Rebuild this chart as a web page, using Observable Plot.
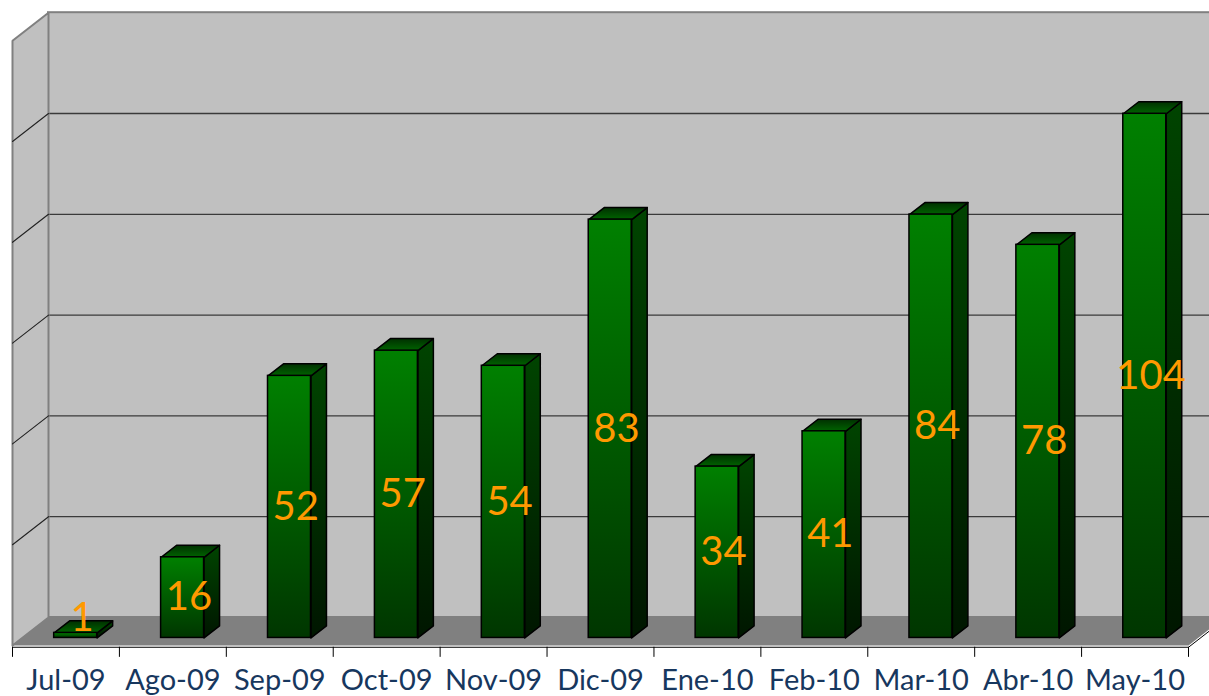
<!DOCTYPE html>
<html>
<head>
<meta charset="utf-8">
<script src="https://cdn.jsdelivr.net/npm/d3@7"></script>
<script src="https://cdn.jsdelivr.net/npm/@observablehq/plot@0.6"></script>
<style>
  html, body { margin: 0; padding: 0; background: #ffffff; overflow: hidden; }
  #chart svg { display: block; }
</style>
</head>
<body>
<div id="chart"></div>
<script>
// ---- data ----
const categories = ["Jul-09", "Ago-09", "Sep-09", "Oct-09", "Nov-09", "Dic-09", "Ene-10", "Feb-10", "Mar-10", "Abr-10", "May-10"];
const values = [1, 16, 52, 57, 54, 83, 34, 41, 84, 78, 104];
const gridValues = [20, 40, 60, 80, 100];
const yMax = 120;

// ---- 3D projection helpers (depth expressed in scale units) ----
const PX_PER_CAT = 1176 / 11;   // x scale: px per category
const PX_PER_VAL = 5.04;        // y scale: px per value unit
const KX = 36 / PX_PER_CAT;     // x shift for full depth
const KY = 28 / PX_PER_VAL;     // y shift for full depth
const D0 = 0.27, D1 = 0.70, BW = 0.402;
const proj = (x, v, d) => ({x: x + d * KX, y: v + d * KY});

const bars = values.map((v, i) => ({i, v, cat: categories[i]}));
const sides = bars.flatMap(b => {
  const xr = b.i + 0.5 + BW / 2;
  return [proj(xr, 0, D0), proj(xr, 0, D1), proj(xr, b.v, D1), proj(xr, b.v, D0), proj(xr, 0, D0)]
    .map(p => ({...p, id: b.i}));
});
const tops = bars.flatMap(b => {
  const xl = b.i + 0.5 - BW / 2, xr = b.i + 0.5 + BW / 2;
  return [proj(xl, b.v, D0), proj(xr, b.v, D0), proj(xr, b.v, D1), proj(xl, b.v, D1), proj(xl, b.v, D0)]
    .map(p => ({...p, id: b.i}));
});
const sideWall = [proj(0, 0, 0), proj(0, 0, 1), proj(0, yMax, 1), proj(0, yMax, 0), proj(0, 0, 0)];
const floor = [proj(0, 0, 0), proj(11, 0, 0), proj(11, 0, 1), proj(0, 0, 1), proj(0, 0, 0)];
const sideGrid = gridValues.flatMap(g => [proj(0, g, 0), proj(0, g, 1)].map(p => ({...p, g})));

function defs() {
  const d = d3.create("svg:defs");
  const grad = (id, stops) => {
    const g = d.append("linearGradient").attr("id", id)
      .attr("x1", 0).attr("y1", 0).attr("x2", 0).attr("y2", 1);
    stops.forEach(([o, c]) => g.append("stop").attr("offset", o).attr("stop-color", c));
  };
  grad("gFront", [[0, "#008000"], [1, "#003600"]]);
  grad("gSide", [[0, "#004400"], [1, "#001600"]]);
  grad("gTop", [[0, "#003000"], [1, "#006400"]]);
  return d.node();
}

const chart = Plot.plot({
  width: 1209,
  height: 696,
  style: {overflow: "hidden", background: "#ffffff"},
  x: {type: "linear", domain: [0, 11], range: [12, 1188], axis: null},
  y: {type: "linear", domain: [0, 128], range: [645, 645 - 128 * PX_PER_VAL], axis: null},
  marks: [
    defs,
    // back wall
    Plot.rect([0], {x1: () => KX, x2: () => 11.8, y1: () => KY, y2: () => yMax + KY,
      fill: "#C0C0C0", stroke: "#808080", strokeWidth: 2}),
    // back wall gridlines
    Plot.ruleY(gridValues, {y: g => g + KY, x1: () => KX, x2: () => 11.8, stroke: "#3a3a3a", strokeWidth: 1.3}),
    // side wall
    Plot.line(sideWall, {x: "x", y: "y", fill: "#C0C0C0", stroke: "#808080", strokeWidth: 2, strokeLinejoin: "miter"}),
    Plot.line(sideGrid, {x: "x", y: "y", z: "g", stroke: "#222222", strokeWidth: 1.1}),
    // floor
    Plot.line(floor, {x: "x", y: "y", fill: "#808080", stroke: "none"}),
    Plot.line([proj(11, -0.35, 0), proj(11, -0.35, 1)], {x: "x", y: "y", stroke: "#000000", strokeWidth: 1}),
    // bars
    Plot.line(sides, {x: "x", y: "y", z: "id", fill: "url(#gSide)", stroke: "#000000", strokeWidth: 1.5}),
    Plot.line(tops, {x: "x", y: "y", z: "id", fill: "url(#gTop)", stroke: "#000000", strokeWidth: 1.5}),
    Plot.rect(bars, {
      x1: b => b.i + 0.5 - BW / 2 + D0 * KX,
      x2: b => b.i + 0.5 + BW / 2 + D0 * KX,
      y1: () => D0 * KY,
      y2: b => b.v + D0 * KY,
      fill: "url(#gFront)", stroke: "#000000", strokeWidth: 1.5
    }),
    // data labels
    Plot.text(bars, {
      x: b => b.i + 0.65,
      y: b => Math.max(b.v / 2, 4) + D0 * KY,
      text: b => String(b.v),
      fontSize: 40, fontFamily: "Lato", fill: "#FF9900"
    }),
    // x axis
    Plot.ruleY([0], {y: () => -0.35, x1: () => 0, x2: () => 11, stroke: "#000000", strokeWidth: 1}),
    Plot.ruleX(d3.range(12), {x: d => d, y1: () => -0.35, y2: () => -2.35, stroke: "#000000", strokeWidth: 1}),
    Plot.text(categories, {
      x: (d, i) => i + 0.5,
      y: () => -7.0,
      text: d => d,
      fontSize: 29, fontFamily: "Lato", fill: "#17375E"
    })
  ]
});
document.getElementById("chart").appendChild(chart);
</script>
</body>
</html>
